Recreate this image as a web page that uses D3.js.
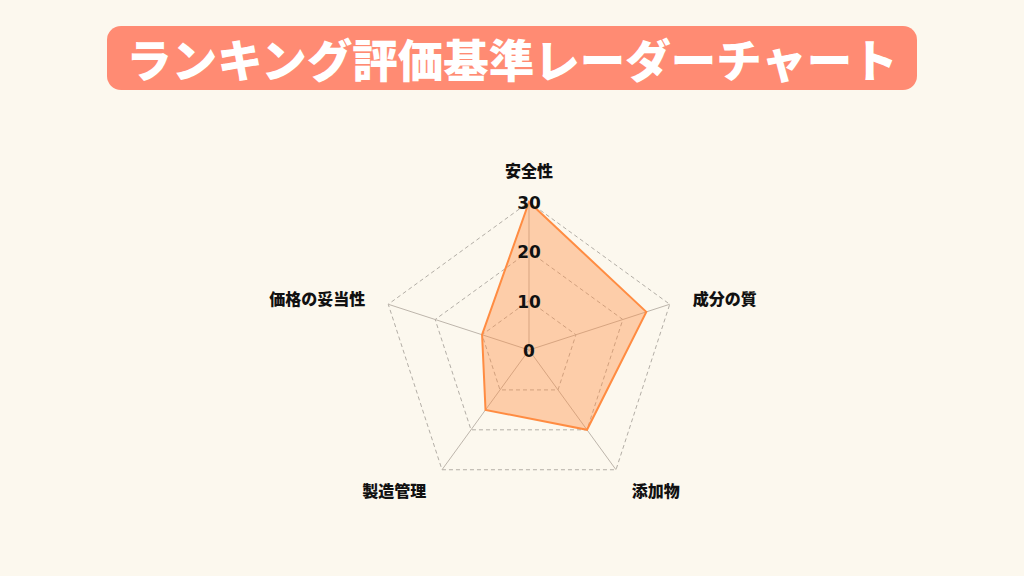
<!DOCTYPE html>
<html>
<head>
<meta charset="utf-8">
<script src="https://cdn.jsdelivr.net/npm/d3@7"></script>
<style>
  html, body { margin: 0; padding: 0; background: #fcf8ee; }
  svg { display: block; }
</style>
</head>
<body>
<svg id="chart" width="1024" height="576"></svg>
<script>
const axes = ["安全性", "成分の質", "添加物", "製造管理", "価格の妥当性"];
const scores = [30, 25, 20, 15, 10];
const ticks = [0, 10, 20, 30];
const title = "ランキング評価基準レーダーチャート";

const svg = d3.select("#chart");
const font = "'Noto Sans CJK JP', 'Noto Sans', sans-serif";

svg.append("rect").attr("width", 1024).attr("height", 576).attr("fill", "#fcf8ee");

// title banner
svg.append("rect")
    .attr("x", 107).attr("y", 26)
    .attr("width", 810).attr("height", 64)
    .attr("rx", 14)
    .attr("fill", "#ff8b73");
svg.append("text")
    .attr("x", 512).attr("y", 58)
    .attr("text-anchor", "middle")
    .attr("dominant-baseline", "central")
    .attr("font-family", font)
    .attr("font-weight", 900)
    .attr("font-size", 45.5)
    .attr("fill", "#fff")
    .text(title);

const cx = 529, cy = 350, R = 148;
const r = d3.scaleLinear().domain([0, 30]).range([0, R]);
const angle = i => (i * 2 * Math.PI) / axes.length;
const pt = (i, v) => [cx + r(v) * Math.sin(angle(i)), cy - r(v) * Math.cos(angle(i))];

const g = svg.append("g");

// dashed grid rings
ticks.filter(t => t > 0).forEach(t => {
    g.append("polygon")
        .attr("points", axes.map((a, i) => pt(i, t).join(",")).join(" "))
        .attr("fill", "none")
        .attr("stroke", "#b3aea6")
        .attr("stroke-width", 1)
        .attr("stroke-dasharray", "4,3");
});

// spokes
axes.forEach((a, i) => {
    const [x, y] = pt(i, 30);
    g.append("line")
        .attr("x1", cx).attr("y1", cy)
        .attr("x2", x).attr("y2", y)
        .attr("stroke", "#bdb5ab")
        .attr("stroke-width", 1);
});

// data area
g.append("polygon")
    .attr("points", scores.map((v, i) => pt(i, v).join(",")).join(" "))
    .attr("fill", "rgba(255,140,66,0.4)")
    .attr("stroke", "#ff8c42")
    .attr("stroke-width", 2)
    .attr("stroke-linejoin", "miter");

// scale labels
g.selectAll("text.tick")
    .data(ticks)
    .enter()
    .append("text")
    .attr("class", "tick")
    .attr("x", cx)
    .attr("y", d => cy - r(d) + 1)
    .attr("text-anchor", "middle")
    .attr("dominant-baseline", "central")
    .attr("font-family", "'DejaVu Sans', sans-serif")
    .attr("font-weight", 700)
    .attr("font-size", 17)
    .attr("fill", "#111")
    .text(d => d);

// axis labels
axes.forEach((a, i) => {
    const s = Math.sin(angle(i)), c = Math.cos(angle(i));
    let x = cx + (R + 20) * s, y = cy - (R + 20) * c;
    let anchor = "middle";
    if (s > 0.1) { anchor = "start"; x += 4; }
    else if (s < -0.1) { anchor = "end"; x -= 4; }
    if (c > 0.9) y -= 12;
    else if (c < 0) y += 4;
    g.append("text")
        .attr("x", x).attr("y", y)
        .attr("text-anchor", anchor)
        .attr("dominant-baseline", "central")
        .attr("font-family", font)
        .attr("font-weight", 900)
        .attr("font-size", 16)
        .attr("fill", "#111")
        .text(a);
});
</script>
</body>
</html>
